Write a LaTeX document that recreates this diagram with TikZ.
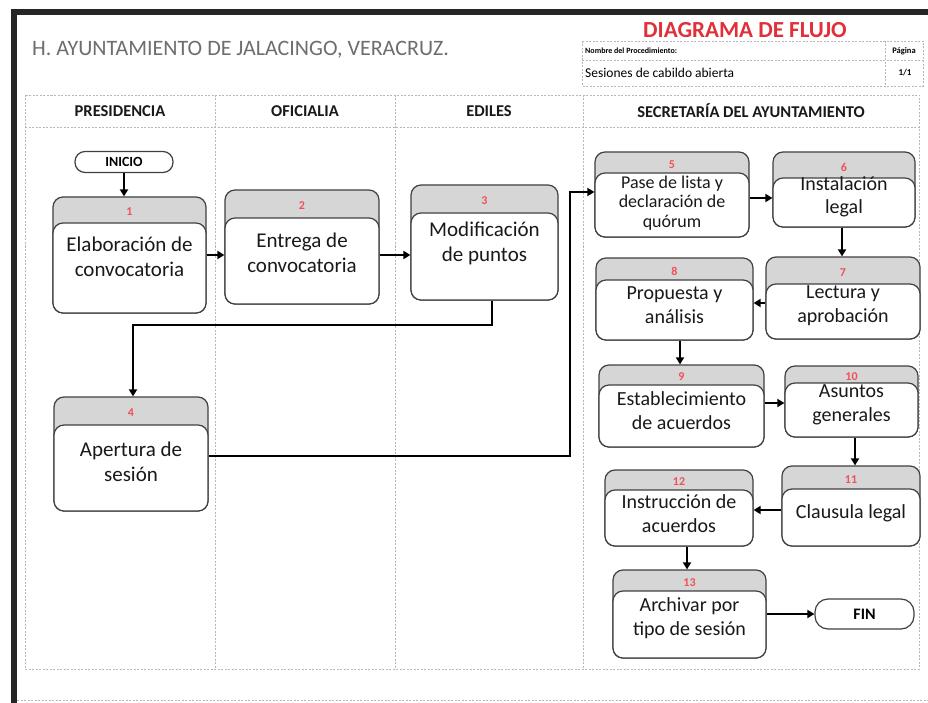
\documentclass[tikz,border=0pt]{standalone}
\usepackage{fontspec}
\setmainfont{Carlito}
\usetikzlibrary{arrows.meta}
\definecolor{numred}{HTML}{F0505A}
\definecolor{titlered}{HTML}{E0303A}
\definecolor{tabgray}{HTML}{D6D6D6}
\definecolor{lanegray}{HTML}{B8B8B8}
\definecolor{titlegray}{HTML}{6E6E6E}
\tikzset{
  tab/.style={draw=black!75, fill=tabgray, rounded corners=10pt, line width=1.2pt, inner sep=0pt},
  body/.style={draw=black!75, fill=white, rounded corners=10pt, line width=1.2pt, inner sep=0pt},
  num/.style={text=numred, font=\bfseries\fontsize{12}{12}\selectfont, inner sep=0pt},
  btxt/.style={align=center, inner sep=0pt, text=black!90, font=\fontsize{20}{24}\selectfont},
  bigtxt/.style={btxt, font=\fontsize{21}{25}\selectfont},
  arr/.style={draw=black, line width=1.8pt, -{Triangle[length=7pt,width=8pt]}},
  lane/.style={draw=lanegray, line width=0.8pt, dash pattern=on 2pt off 1.5pt},
  term/.style={draw=black!75, fill=white, line width=1.2pt, inner sep=0pt, font=\bfseries},
  hdr/.style={font=\bfseries\fontsize{16.5}{18}\selectfont, text=black!90, inner sep=0pt},
}
\newcommand\pbox[7]{%
  \node[tab, minimum width={#5-#2}, minimum height={#6-#3}] (#1t) at ({(#2+#5)/2},{(#3+#6)/2}) {};
  \node[body, minimum width={#5-#2}, minimum height={#6-#4}] (#1) at ({(#2+#5)/2},{(#4+#6)/2}) {};
  \node[num] (#1n) at ({(#2+#5)/2},{(#3+#4)/2+2}) {#7};
}
\begin{document}
\begin{tikzpicture}[x=1pt, y=-1pt]
\useasboundingbox (0,0) rectangle (928,703);
\fill[white] (0,0) rectangle (928,703);
% frame
\draw[line width=6pt, black!85, line join=miter] (13.5,703) -- (13.5,12.5) -- (928,12.5);
\draw[lane] (17,700) -- (928,700);
% title
\node[anchor=west, inner sep=0pt, text=titlegray, font=\fontsize{22}{24}\selectfont] (title) at (32,50) {H. AYUNTAMIENTO DE JALACINGO, VERACRUZ.};
\node[inner sep=0pt, text=titlered, font=\bfseries\fontsize{23}{25}\selectfont] (diag) at (745,30) {DIAGRAMA DE FLUJO};
% table
\draw[lane] (582,41) rectangle (923,86);
\draw[lane] (582,60) -- (923,60);
\draw[lane] (885,41) -- (885,86);
\node[anchor=west, inner sep=0pt, font=\bfseries\fontsize{8}{9}\selectfont] (nom) at (585,51) {Nombre del Procedimiento:};
\node[inner sep=0pt, font=\bfseries\fontsize{8.5}{9}\selectfont] (pag) at (904,51) {Página};
\node[anchor=west, inner sep=0pt, font=\fontsize{13.5}{16}\selectfont] (ses) at (585,73) {Sesiones de cabildo abierta};
\node[inner sep=0pt, font=\bfseries\fontsize{9}{10}\selectfont] (pg) at (905,73) {1/1};
% lanes
\draw[lane] (25,95) rectangle (919,669);
\draw[lane] (25,127) -- (919,127);
\foreach \xx in {215,395,583} \draw[lane] (\xx,95) -- (\xx,669);
\node[hdr] (h1) at (120,111) {PRESIDENCIA};
\node[hdr] (h2) at (305,111) {OFICIALIA};
\node[hdr] (h3) at (489,111) {EDILES};
\node[hdr] (h4) at (751,111) {SECRETARÍA DEL AYUNTAMIENTO};
% terminals
\node[term, minimum width=98, minimum height=21, rounded corners=10pt, font=\bfseries\fontsize{14}{15}\selectfont] (INICIO) at (124,162) {INICIO};
\node[term, minimum width=99, minimum height=30, rounded corners=13pt, font=\bfseries\fontsize{16}{17}\selectfont] (FIN) at (864.5,614) {FIN};
% process boxes
\pbox{b1}{53}{197}{223}{206}{313}{1}
\pbox{b2}{225}{190}{218}{379}{304}{2}
\pbox{b3}{411}{185}{213}{558}{300}{3}
\pbox{b4}{54}{397}{425}{208}{511}{4}
\pbox{b5}{595}{152}{173}{749}{237}{5}
\pbox{b6}{773}{152}{178}{915}{227}{6}
\pbox{b8}{596}{258}{280}{753}{340}{8}
\pbox{b7}{766}{257}{284}{920}{339}{7}
\pbox{b9}{599}{365}{385}{764}{447}{9}
\pbox{b10}{785}{366}{383}{918}{437}{10}
\pbox{b12}{605}{470}{490}{753}{546}{12}
\pbox{b11}{782}{466}{489}{920}{546}{11}
\pbox{b13}{613}{570}{591}{766}{658}{13}
% texts
\node[bigtxt] (b1x) at (129.5,257) {Elaboración de\\convocatoria};
\node[bigtxt] (b2x) at (302,253) {Entrega de\\convocatoria};
\node[bigtxt] (b3x) at (484.5,243) {Modificación\\de puntos};
\node[bigtxt] (b4x) at (131,462) {Apertura de\\sesión};
\node[btxt, font=\fontsize{18}{19.5}\selectfont] (b5x) at (672,203) {Pase de lista y\\declaración de\\quórum};
\node[btxt, font=\fontsize{20}{23}\selectfont] (b6x) at (844,197) {Instalación\\legal};
\node[btxt] (b8x) at (674.5,305) {Propuesta y\\análisis};
\node[btxt] (b7x) at (843,306) {Lectura y\\aprobación};
\node[btxt] (b9x) at (681.5,411) {Establecimiento\\de acuerdos};
\node[btxt] (b10x) at (851.5,405) {Asuntos\\generales};
\node[btxt] (b12x) at (679,514) {Instrucción de\\acuerdos};
\node[btxt] (b11x) at (851,513) {Clausula legal};
\node[btxt] (b13x) at (689.5,618) {Archivar por\\tipo de sesión};
% connectors
\draw[arr] (INICIO.south) -- (INICIO.south |- b1t.north);
\draw[arr] (b1.east |- 0,255) -- (b2.west |- 0,255);
\draw[arr] (b2.east |- 0,255) -- (b3.west |- 0,255);
\draw[arr] (b3.south -| 492,0) -- (492,325) -| (b4t.north -| 133,0);
\draw[arr] (b4.east |- 0,456) -- (570,456) |- (b5.west |- 0,192);
\draw[arr] (b5.east |- 0,198) -- (b6.west |- 0,198);
\draw[arr] (b6.south -| 842,0) -- (b7t.north -| 842,0);
\draw[arr] (b7.west |- 0,303) -- (b8.east |- 0,303);
\draw[arr] (b8.south -| 680,0) -- (b9t.north -| 680,0);
\draw[arr] (b9.east |- 0,403) -- (b10.west |- 0,403);
\draw[arr] (b10.south -| 855,0) -- (b11t.north -| 855,0);
\draw[arr] (b11.west |- 0,510) -- (b12.east |- 0,510);
\draw[arr] (b12.south -| 687,0) -- (b13t.north -| 687,0);
\draw[arr] (b13.east |- FIN.west) -- (FIN.west);
\end{tikzpicture}
\end{document}
